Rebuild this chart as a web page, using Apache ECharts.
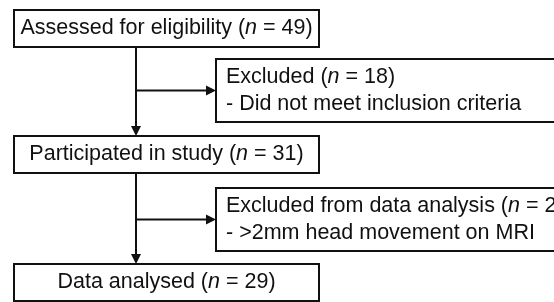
<!DOCTYPE html>
<html>
<head>
<meta charset="utf-8">
<script src="https://cdn.jsdelivr.net/npm/echarts@6/dist/echarts.min.js"></script>
<style>
  html, body { margin: 0; padding: 0; background: #fff; }
  #chart { width: 554px; height: 302px; }
</style>
</head>
<body>
<div id="chart"></div>
<script>
// ---- data ----
const stepLabels = ['Assessed for eligibility', 'Participated in study', 'Data analysed'];
const stepCounts = [49, 31, 29];
const exclusionLabels = ['Excluded', 'Excluded from data analysis'];
const exclusionCounts = [18, 2];
const exclusionReasons = ['Did not meet inclusion criteria', '>2mm head movement on MRI'];

// ---- layout (axis units = pixels) ----
const L = {
  mainX: [14, 319], mainTop: [10, 136, 264], mainH: 37,
  sideX: [216, 590], sideTop: [59, 188], sideH: 63,
  spineX: 136, head: 10, headHalf: 5, pad: 10
};
const FS = 21.5;
const FONT = 'Liberation Sans, Arial, Helvetica, sans-serif';
const INK = '#111';
const rich = {
  i: { fontStyle: 'italic', fontFamily: FONT, fontSize: FS, fill: INK, lineHeight: 27 }
};

function countText(label, n) { return label + ' ({i|n} = ' + n + ')'; }

const items = [];
stepLabels.forEach((_, i) => items.push([0, i]));
exclusionLabels.forEach((_, i) => items.push([1, i]));
for (let i = 0; i < stepLabels.length - 1; i++) items.push([2, i]);
exclusionLabels.forEach((_, i) => items.push([3, i]));

function renderItem(params, api) {
  const kind = api.value(0), idx = api.value(1);
  const lineStyle = { stroke: INK, lineWidth: 2, fill: null };
  if (kind === 0) {
    const p0 = api.coord([L.mainX[0], L.mainTop[idx]]);
    const p1 = api.coord([L.mainX[1], L.mainTop[idx] + L.mainH]);
    return {
      type: 'group', children: [
        { type: 'rect', shape: { x: p0[0], y: p0[1], width: p1[0] - p0[0], height: p1[1] - p0[1] },
          style: { fill: '#fff', stroke: INK, lineWidth: 2 } },
        { type: 'text', style: {
            text: countText(stepLabels[idx], stepCounts[idx]), rich: rich,
            x: (p0[0] + p1[0]) / 2, y: (p0[1] + p1[1]) / 2,
            align: 'center', verticalAlign: 'middle',
            font: FS + 'px ' + FONT, fill: INK } }
      ]
    };
  }
  if (kind === 1) {
    const p0 = api.coord([L.sideX[0], L.sideTop[idx]]);
    const p1 = api.coord([L.sideX[1], L.sideTop[idx] + L.sideH]);
    return {
      type: 'group', children: [
        { type: 'rect', shape: { x: p0[0], y: p0[1], width: p1[0] - p0[0], height: p1[1] - p0[1] },
          style: { fill: '#fff', stroke: INK, lineWidth: 2 } },
        { type: 'text', style: {
            text: countText(exclusionLabels[idx], exclusionCounts[idx]) + '\n- ' + exclusionReasons[idx],
            rich: rich, lineHeight: 27,
            x: p0[0] + L.pad, y: (p0[1] + p1[1]) / 2,
            align: 'left', verticalAlign: 'middle',
            font: FS + 'px ' + FONT, fill: INK } }
      ]
    };
  }
  if (kind === 2) {
    const a = api.coord([L.spineX, L.mainTop[idx] + L.mainH]);
    const b = api.coord([L.spineX, L.mainTop[idx + 1]]);
    return {
      type: 'group', children: [
        { type: 'line', shape: { x1: a[0], y1: a[1], x2: b[0], y2: b[1] - L.head + 1 }, style: lineStyle },
        { type: 'polygon', shape: { points: [[b[0], b[1]], [b[0] - L.headHalf, b[1] - L.head], [b[0] + L.headHalf, b[1] - L.head]] },
          style: { fill: INK } }
      ]
    };
  }
  // kind 3: horizontal arrow to exclusion box
  const yc = L.sideTop[idx] + L.sideH / 2;
  const a = api.coord([L.spineX, yc]);
  const b = api.coord([L.sideX[0], yc]);
  return {
    type: 'group', children: [
      { type: 'line', shape: { x1: a[0], y1: a[1], x2: b[0] - L.head + 1, y2: b[1] }, style: lineStyle },
      { type: 'polygon', shape: { points: [[b[0], b[1]], [b[0] - L.head, b[1] - L.headHalf], [b[0] - L.head, b[1] + L.headHalf]] },
        style: { fill: INK } }
    ]
  };
}

const chart = echarts.init(document.getElementById('chart'));
chart.setOption({
  animation: false,
  backgroundColor: '#fff',
  grid: { left: 0, right: 0, top: 0, bottom: 0 },
  xAxis: { type: 'value', min: 0, max: 554, show: false },
  yAxis: { type: 'value', min: 0, max: 302, inverse: true, show: false },
  series: [{
    type: 'custom', clip: false, coordinateSystem: 'cartesian2d',
    renderItem: renderItem,
    data: items
  }]
});
</script>
</body>
</html>
